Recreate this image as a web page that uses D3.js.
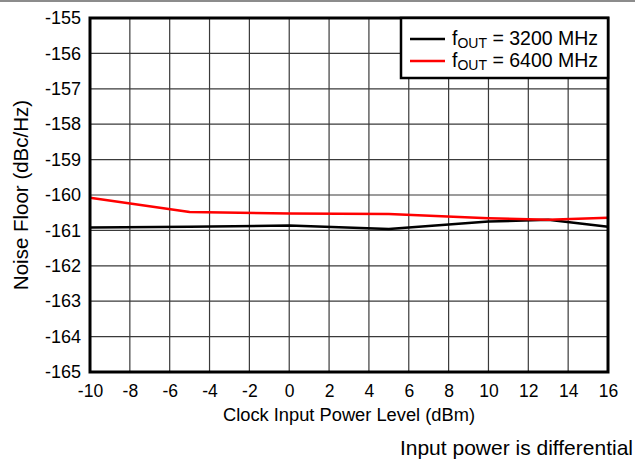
<!DOCTYPE html>
<html><head><meta charset="utf-8">
<script src="https://cdn.jsdelivr.net/npm/d3@7"></script>
<style>body{margin:0;background:#fff}svg{display:block;font-family:"Liberation Sans",Arial,sans-serif}</style>
</head><body>
<script>
const xValues = [-10, -5, 0, 5, 10, 13, 16];
const series3200 = [-160.92, -160.9, -160.86, -160.96, -160.75, -160.7, -160.9];
const series6400 = [-160.08, -160.48, -160.52, -160.54, -160.66, -160.7, -160.64];
const xTicks = [-10,-8,-6,-4,-2,0,2,4,6,8,10,12,14,16];
const yTicks = [-155,-156,-157,-158,-159,-160,-161,-162,-163,-164,-165];
const seriesNames = ["3200 MHz", "6400 MHz"];
const seriesColors = ["#000000", "#ff0000"];

const W = 635, H = 460;
const m = {l: 90, r: 27, t: 18, b: 88};
const FONT = "Liberation Sans, Arial, sans-serif";
const svg = d3.select("body").append("svg").attr("width", W).attr("height", H);
const x = d3.scaleLinear().domain([-10, 16]).range([m.l, W - m.r]);
const y = d3.scaleLinear().domain([-165, -155]).range([H - m.b, m.t]);

svg.append("line").attr("x1", 0).attr("x2", W).attr("y1", 1).attr("y2", 1)
  .attr("stroke", "#8c8c8c").attr("stroke-width", 2);

// grid
svg.append("g").selectAll("line").data(xTicks.slice(1, -1)).join("line")
  .attr("x1", d => x(d)).attr("x2", d => x(d)).attr("y1", m.t).attr("y2", H - m.b)
  .attr("stroke", "#3a3a3a").attr("stroke-width", 1.2);
svg.append("g").selectAll("line").data(yTicks.slice(1, -1)).join("line")
  .attr("y1", d => y(d)).attr("y2", d => y(d)).attr("x1", m.l).attr("x2", W - m.r)
  .attr("stroke", "#3a3a3a").attr("stroke-width", 1.2);

// axes labels
const xa = svg.append("g").attr("transform", `translate(0,${H - m.b})`)
  .call(d3.axisBottom(x).tickValues(xTicks).tickSize(0).tickPadding(13).tickFormat(d => String(d)));
xa.select(".domain").remove();
xa.attr("font-size", 17.5).attr("font-family", FONT);
xa.selectAll("text").attr("fill", "#000");
const ya = svg.append("g").attr("transform", `translate(${m.l},0)`)
  .call(d3.axisLeft(y).tickValues(yTicks).tickSize(0).tickPadding(9).tickFormat(d => String(d)));
ya.select(".domain").remove();
ya.attr("font-size", 18).attr("font-family", FONT);
ya.selectAll("text").attr("fill", "#000");

// lines
const line = d3.line().x((d, i) => x(xValues[i])).y(d => y(d));
[series3200, series6400].forEach((s, i) => {
  svg.append("path").attr("d", line(s)).attr("fill", "none")
    .attr("stroke", seriesColors[i]).attr("stroke-width", 2.5).attr("stroke-linejoin", "round");
});

// frame
svg.append("rect").attr("x", m.l).attr("y", m.t).attr("width", W - m.r - m.l).attr("height", H - m.b - m.t)
  .attr("fill", "none").attr("stroke", "#000").attr("stroke-width", 3);

// legend
const lg = svg.append("g");
lg.append("rect").attr("x", 401).attr("y", m.t).attr("width", W - m.r - 401).attr("height", 60)
  .attr("fill", "#fff").attr("stroke", "#000").attr("stroke-width", 2.5);
seriesNames.forEach((n, i) => {
  const yy = 39 + i * 22;
  lg.append("line").attr("x1", 410).attr("x2", 445).attr("y1", yy).attr("y2", yy)
    .attr("stroke", seriesColors[i]).attr("stroke-width", 2.5);
  const t = lg.append("text").attr("x", 452).attr("y", yy + 6).attr("font-size", 19.5);
  t.append("tspan").text("f");
  t.append("tspan").attr("font-size", 14).attr("dy", 3).text("OUT");
  t.append("tspan").attr("dy", -3).text(" = " + n);
});

// titles
svg.append("text").attr("x", 349).attr("y", 421).attr("text-anchor", "middle")
  .attr("font-size", 18.3).text("Clock Input Power Level (dBm)");
svg.append("text").attr("transform", `translate(28,${(m.t + H - m.b) / 2}) rotate(-90)`)
  .attr("text-anchor", "middle").attr("font-size", 20.5).text("Noise Floor (dBc/Hz)");
svg.append("text").attr("x", 633).attr("y", 455).attr("text-anchor", "end")
  .attr("font-size", 21).text("Input power is differential");
</script>
</body></html>
